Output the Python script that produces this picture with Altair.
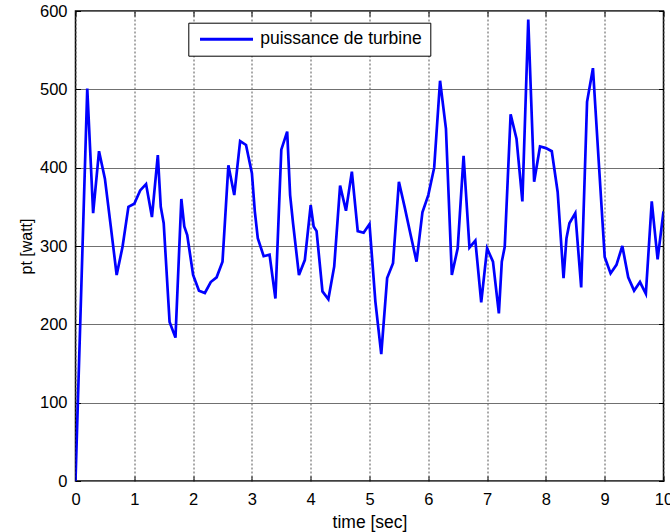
import altair as alt
import pandas as pd

# --- data ---
time_s = [0.0, 0.1, 0.2, 0.3, 0.4, 0.5, 0.6, 0.7, 0.8, 0.9,
          1.0, 1.1, 1.2, 1.3, 1.4, 1.45, 1.5, 1.6, 1.7, 1.8, 1.85, 1.9,
          2.0, 2.1, 2.2, 2.3, 2.4, 2.5, 2.6, 2.7, 2.8, 2.9,
          3.0, 3.05, 3.1, 3.2, 3.3, 3.4, 3.5, 3.6, 3.65, 3.7, 3.8, 3.9,
          4.0, 4.05, 4.1, 4.2, 4.3, 4.4, 4.5, 4.6, 4.7, 4.8, 4.9,
          5.0, 5.1, 5.2, 5.3, 5.4, 5.5, 5.6, 5.7, 5.8, 5.9,
          6.0, 6.1, 6.2, 6.3, 6.4, 6.5, 6.6, 6.7, 6.8, 6.9,
          7.0, 7.1, 7.2, 7.25, 7.3, 7.4, 7.5, 7.6, 7.7, 7.8, 7.9,
          8.0, 8.1, 8.2, 8.3, 8.35, 8.4, 8.5, 8.6, 8.7, 8.8, 8.9,
          9.0, 9.1, 9.2, 9.3, 9.4, 9.5, 9.6, 9.7, 9.8, 9.9, 10.0]

power_w = [0, 250, 501, 342, 421, 386, 325, 263, 299, 350,
           354, 371, 379, 337, 416, 350, 329, 203, 183, 360, 325, 314,
           263, 243, 240, 254, 260, 280, 403, 365, 434, 429,
           393, 344, 310, 287, 289, 233, 423, 446, 365, 329, 263, 282,
           352, 325, 319, 242, 232, 274, 377, 345, 395, 319, 317,
           328, 229, 162, 259, 278, 382, 349, 314, 280, 343,
           365, 400, 511, 450, 263, 297, 415, 298, 307, 228,
           297, 280, 214, 280, 299, 468, 437, 357, 589, 382, 427,
           425, 421, 369, 259, 310, 329, 342, 247, 484, 527, 406,
           286, 265, 276, 300, 260, 243, 254, 239, 357, 283, 344]

series_name = "puissance de turbine"
x_ticks = [0, 1, 2, 3, 4, 5, 6, 7, 8, 9, 10]
y_ticks = [0, 100, 200, 300, 400, 500, 600]

df = pd.DataFrame({"time": time_s, "pt": power_w, "serie": series_name})

FONT = "Liberation Sans"

x_main = alt.Axis(values=x_ticks, format="d", title="time [sec]",
                  grid=True, gridColor="#555555", gridDash=[2, 2], gridWidth=1,
                  domain=False, ticks=True, tickSize=5, tickColor="black",
                  offset=-5, labelPadding=10, labelFlush=False,
                  labelFont=FONT, labelFontSize=16.5, labelColor="black",
                  titleFont=FONT, titleFontSize=17.5, titleFontWeight="normal",
                  titleColor="black", titleBaseline="alphabetic", titleY=51)

y_main = alt.Axis(values=y_ticks, format="d", title="pt [watt]",
                  grid=True, gridColor="#707070", gridWidth=1,
                  domain=False, ticks=True, tickSize=5, tickColor="black",
                  offset=-5, labelPadding=8.5,
                  labelFont=FONT, labelFontSize=16.5, labelColor="black",
                  titleFont=FONT, titleFontSize=16, titleFontWeight="normal",
                  titleColor="black", titleBaseline="alphabetic", titleX=-49)

legend = alt.Legend(title=None, orient="none", legendX=112.8, legendY=11.7,
                    padding=8, strokeColor="black", fillColor="white",
                    cornerRadius=0, symbolType="stroke", symbolSize=2809,
                    symbolStrokeWidth=3, clipHeight=17, labelOffset=5.7,
                    symbolOffset=2.2, labelFont=FONT, labelFontSize=17.5,
                    labelColor="black", labelLimit=400)

x_scale = alt.Scale(domain=[0, 10], nice=False, zero=False)
y_scale = alt.Scale(domain=[0, 600], nice=False)

line = alt.Chart(df).mark_line(strokeWidth=2.7, clip=True).encode(
    x=alt.X("time:Q", scale=x_scale, axis=x_main),
    y=alt.Y("pt:Q", scale=y_scale, axis=y_main),
    color=alt.Color("serie:N",
                    scale=alt.Scale(domain=[series_name], range=["#0000ff"]),
                    legend=legend),
)

inner_ticks = alt.Chart(df).mark_line(opacity=0).encode(
    x=alt.X("time:Q", scale=x_scale,
            axis=alt.Axis(orient="top", values=x_ticks, labels=False, title="",
                          grid=False, domain=False, tickSize=5,
                          tickColor="black", offset=-5)),
    y=alt.Y("pt:Q", scale=y_scale,
            axis=alt.Axis(orient="right", values=y_ticks, labels=False, title="",
                          grid=False, domain=False, tickSize=5,
                          tickColor="black", offset=-5)),
)

chart = alt.layer(line, inner_ticks).resolve_axis(
    x="independent", y="independent"
).properties(
    width=588, height=470,
    padding={"left": 75.5, "top": 11, "right": 6.5, "bottom": 51},
    autosize=alt.AutoSizeParams(type="none"),
    background="white",
).configure_view(
    stroke="black", strokeWidth=1.5
)

chart.save("out.html", embed_options={"renderer": "svg", "actions": False})
